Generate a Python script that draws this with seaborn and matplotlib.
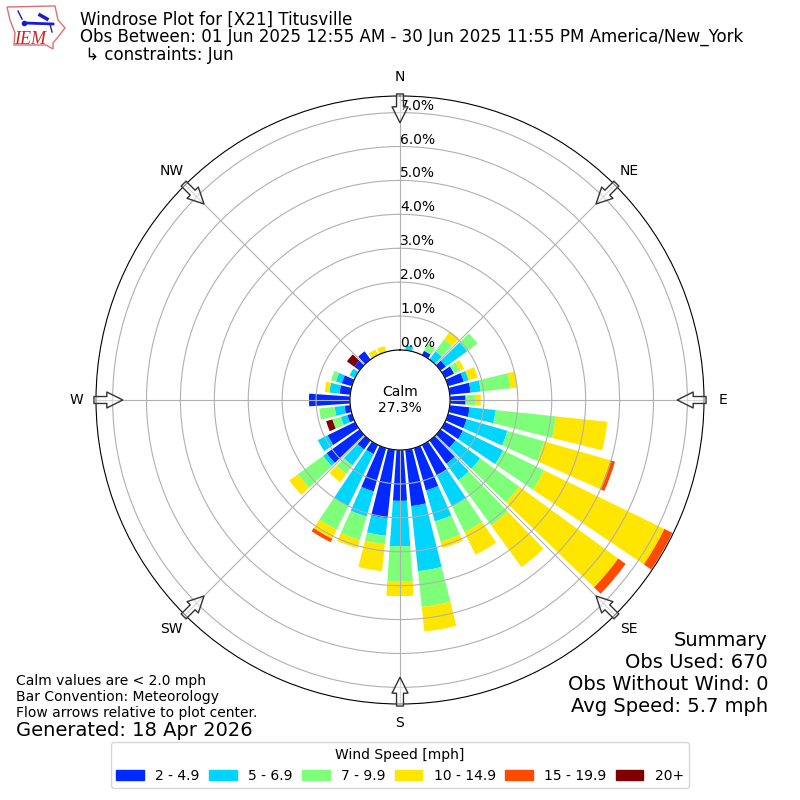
import numpy as np
import pandas as pd
import seaborn as sns
import matplotlib.pyplot as plt
from matplotlib.patches import Patch, Polygon

# percent of observations per 10 degree direction bin, 0 = N going clockwise
directions = np.arange(0, 360, 10)
speed_labels = ["2 - 4.9", "5 - 6.9", "7 - 9.9", "10 - 14.9", "15 - 19.9", "20+"]
speed_colors = ["#0029ff", "#00d5ff", "#7dff7a", "#ffe600", "#ff4a00", "#7f0000"]

s2_5 = [0, 0, 0, .14, 0, .2, .3, .48, .62, .46, .59, .57, .59, .55, .85, 1.0, 1.3, 1.67,
        1.5, 2.03, 1.33, .3, .33, 1.2, .9, .14, .17, 1.21, .32, .31, 0, .19, .3, 0, 0, 0]
s5_7 = [0, .14, 0, 0, .3, .77, 0, .15, .3, 0, .77, 1.25, 1.32, .9, .6, 1.02, .95, 1.93,
        1.34, .52, .77, 1.7, .58, .13, .32, .2, .29, 0, .3, .18, .18, 0, 0, 0, 0, 0]
s7_10 = [0, 0, 0, .23, .44, .38, .2, 0, .88, .3, 1.79, 1.13, 1.34, 1.42, 1.65, .84, .62, 1.06,
         1.03, .25, .72, .78, .31, .92, 0, .26, .46, 0, 0, .15, 0, 0, 0, 0, 0, 0]
s10_15 = [0, 0, 0, 0, .29, 0, .13, .28, .2, .15, 1.52, 2.03, 3.95, 3.61, 1.52, .74, .2, .73,
          .44, .8, .25, .3, .3, .31, 0, 0, 0, 0, .14, 0, 0, 0, 0, .18, .18, 0]
s15_20 = [0, 0, 0, 0, 0, 0, 0, 0, 0, 0, 0, .14, .26, .27, 0, 0, 0, 0,
          0, 0, 0, .11, 0, 0, 0, 0, 0, 0, 0, 0, 0, 0, 0, 0, 0, 0]
s20_up = [0, 0, 0, 0, 0, 0, 0, 0, 0, 0, 0, 0, 0, 0, 0, 0, 0, 0,
          0, 0, 0, 0, 0, 0, 0, .19, 0, 0, 0, 0, 0, .27, 0, 0, 0, 0]

series = [s2_5, s5_7, s7_10, s10_15, s15_20, s20_up]
frames = []
for label, vals in zip(speed_labels, series):
    frames.append(pd.DataFrame({"theta": np.radians(directions), "freq": vals, "speed": label}))
df = pd.concat(frames, ignore_index=True)

ticks_pct = np.arange(0, 8)
RMAX = 7.49
ORIGIN = -1.475

fig = plt.figure(figsize=(8, 8), dpi=100)
ax = fig.add_axes([96 / 800, 96 / 800, 608 / 800, 608 / 800], projection="polar")
ax.set_theta_zero_location("N")
ax.set_theta_direction(-1)

edges = list(np.radians(np.arange(-5, 360, 10)))
# seaborn puts the first hue level on top of a stack, so hand it reversed
sns.histplot(data=df, x="theta", weights="freq", hue="speed", hue_order=speed_labels[::-1],
             palette=dict(zip(speed_labels, speed_colors)), bins=edges, multiple="stack",
             shrink=0.8, alpha=1, linewidth=0, legend=False, ax=ax)

ax.set_xlabel("")
ax.set_ylabel("")
ax.set_ylim(0, RMAX)
ax.set_rorigin(ORIGIN)
ax.set_rlabel_position(0)
ax.set_yticks(ticks_pct)
ax.set_yticklabels([f"{t:.1f}%" for t in ticks_pct])
ax.set_xticks(np.radians(np.arange(0, 360, 45)))
ax.set_xticklabels(["N", "NE", "E", "SE", "S", "SW", "W", "NW"])
ax.grid(True)

# flow arrows pointing at the plot center
for deg in np.arange(0, 360, 45):
    ax.annotate("", xy=(np.radians(deg), 6.7), xytext=(np.radians(deg), 7.55),
                arrowprops=dict(facecolor=(1, 1, 1, 0.5), edgecolor="#333333", width=5,
                                headwidth=11.5, headlength=11.5, lw=1), annotation_clip=False)

ax.text(0.5, 0.5, "Calm\n27.3%", transform=ax.transAxes, ha="center", va="center", fontsize=10)

fig.text(80 / 800, 1 - 25 / 800, "Windrose Plot for [X21] Titusville", fontsize=12)
fig.text(80 / 800, 1 - 42 / 800, "Obs Between: 01 Jun 2025 12:55 AM - 30 Jun 2025 11:55 PM America/New_York", fontsize=12)
fig.text(80 / 800, 1 - 60 / 800, " ↳ constraints: Jun", fontsize=12)

fig.text(768 / 800, 1 - 646 / 800, "Summary", ha="right", fontsize=14)
fig.text(768 / 800, 1 - 668 / 800, "Obs Used: 670", ha="right", fontsize=14)
fig.text(768 / 800, 1 - 690 / 800, "Obs Without Wind: 0", ha="right", fontsize=14)
fig.text(768 / 800, 1 - 712 / 800, "Avg Speed: 5.7 mph", ha="right", fontsize=14)

fig.text(16 / 800, 1 - 685 / 800, "Calm values are < 2.0 mph", fontsize=10)
fig.text(16 / 800, 1 - 701 / 800, "Bar Convention: Meteorology", fontsize=10)
fig.text(16 / 800, 1 - 717 / 800, "Flow arrows relative to plot center.", fontsize=10)
fig.text(16 / 800, 1 - 736 / 800, "Generated: 18 Apr 2026", fontsize=14)

handles = [Patch(color=c, label=l) for c, l in zip(speed_colors, speed_labels)]
fig.legend(handles=handles, title="Wind Speed [mph]", ncol=6, loc="lower center",
           bbox_to_anchor=(0.5, 0.00625), fontsize=10, title_fontsize=10, columnspacing=0.68)

# IEM logo, rough outline of Iowa
logo = fig.add_axes([0, 1 - 55 / 800, 70 / 800, 55 / 800])
logo.set_xlim(0, 70)
logo.set_ylim(55, 0)
logo.axis("off")
logo.add_patch(Polygon([(7, 7), (55, 6), (58, 20), (65, 28), (58, 37), (53, 43), (53, 49),
                        (46, 45), (14, 45), (15, 33), (10, 20)], closed=True, fill=False,
                       edgecolor="#e07070", lw=1))
logo.plot([25, 53], [23, 24], color="#1a1ad0", lw=2)
logo.plot([40, 47], [15, 19], color="#1a1ad0", lw=2.5)
logo.plot([18, 22], [11, 19], color="#1a1ad0", lw=1)
logo.plot([50, 52], [24, 32], color="#1a1ad0", lw=1)
logo.plot([24], [23], "o", color="#1a1ad0", ms=3)
logo.text(30, 44, "IEM", color="#d02020", fontsize=13, family="Liberation Serif", style="italic", ha="center")

fig.savefig("out.png", dpi=100)
